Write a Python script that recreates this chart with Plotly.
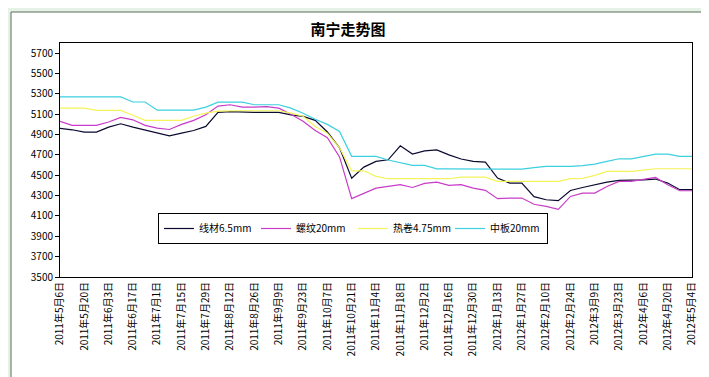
import plotly.graph_objects as go
import pandas as pd

# ---- data (weekly readings, starting 2011-05-06) ----
start_date = "2011-05-06"
n_weeks = 53
dates = pd.date_range(start_date, periods=n_weeks, freq="7D")

wire_65 = [4960, 4947, 4924, 4924, 4973, 5006, 4973, 4947, 4914, 4888,
           4914, 4940, 4980, 5118, 5125, 5118, 5118, 5118, 5118, 5094,
           5078, 5040, 4925, 4770, 4472, 4580, 4636, 4652, 4790, 4708,
           4740, 4750, 4700, 4660, 4636, 4630, 4472, 4423, 4423, 4290,
           4259, 4250, 4350, 4380, 4407, 4433, 4450, 4450, 4455, 4463,
           4423, 4358, 4358]
rebar_20 = [5030, 4990, 4990, 4990, 5023, 5069, 5045, 4990, 4964, 4950,
            5000, 5040, 5094, 5180, 5193, 5170, 5170, 5175, 5160, 5100,
            5030, 4940, 4870, 4680, 4270, 4320, 4374, 4390, 4407, 4380,
            4420, 4433, 4400, 4407, 4374, 4352, 4270, 4276, 4276, 4215,
            4194, 4165, 4292, 4325, 4325, 4390, 4440, 4440, 4456, 4479,
            4407, 4348, 4348]
hot_coil_475 = [5160, 5160, 5160, 5137, 5137, 5137, 5090, 5039, 5039, 5039,
                5039, 5080, 5110, 5130, 5134, 5134, 5134, 5134, 5134, 5110,
                5080, 4980, 4914, 4770, 4544, 4544, 4489, 4466, 4466, 4466,
                4466, 4466, 4466, 4482, 4482, 4482, 4440, 4440, 4440, 4440,
                4440, 4440, 4466, 4470, 4499, 4538, 4538, 4538, 4550, 4564,
                4564, 4564, 4564]
plate_20 = [5270, 5270, 5270, 5270, 5270, 5270, 5220, 5220, 5140, 5140,
            5140, 5140, 5170, 5219, 5219, 5219, 5193, 5193, 5193, 5160,
            5110, 5050, 5000, 4931, 4686, 4686, 4686, 4650, 4620, 4597,
            4597, 4562, 4562, 4560, 4560, 4560, 4560, 4560, 4560, 4575,
            4587, 4587, 4587, 4595, 4610, 4636, 4662, 4662, 4685, 4708,
            4708, 4686, 4686]

series_names = ["线材6.5mm", "螺纹20mm", "热卷4.75mm", "中板20mm"]
series_values = [wire_65, rebar_20, hot_coil_475, plate_20]
series_colors = ["#0a0a30", "#c83cc8", "#f4f45a", "#3cd0e0"]

y_ticks = list(range(3500, 5701, 200))
tick_dates = dates[::2]
tick_labels = [f"{d.year}年{d.month}月{d.day}日" for d in tick_dates]

FONT = "Noto Sans CJK SC"

fig = go.Figure()
for name, vals, col in zip(series_names, series_values, series_colors):
    fig.add_trace(go.Scatter(x=dates, y=vals, name=name, mode="lines",
                             line=dict(color=col, width=1.2)))

W, H = 709, 377
L, R, T, B = 52, 25, 35, 108
pw, ph = W - L - R, H - T - B

def px2paper_x(px):
    return (px - L) / pw

def px2paper_y(py):
    return (H - B - py) / ph

fig.update_layout(
    width=W, height=H,
    margin=dict(l=L, r=R, t=T, b=B),
    paper_bgcolor="#e6f2e6",
    plot_bgcolor="white",
    font=dict(family=FONT, size=10, color="black"),
    title=dict(text="<b>南宁走势图</b>", x=340 / W, xanchor="center",
               y=1 - 22 / H, yanchor="middle",
               font=dict(family=FONT, size=15, color="black")),
    showlegend=True,
    legend=dict(orientation="h", x=px2paper_x(345), xanchor="center",
                y=px2paper_y(205), yanchor="top",
                bordercolor="black", borderwidth=1, bgcolor="white",
                font=dict(family=FONT, size=10, color="black"),
                entrywidth=52, entrywidthmode="pixels",
                itemwidth=30, tracegroupgap=0),
    shapes=[dict(type="rect", xref="paper", yref="paper",
                 x0=px2paper_x(3), x1=px2paper_x(705),
                 y0=px2paper_y(372), y1=px2paper_y(4),
                 fillcolor="white", line=dict(color="#5a6e5a", width=1),
                 layer="below")],
)

fig.update_xaxes(
    range=[dates[0], dates[-1]],
    tickmode="array", tickvals=tick_dates, ticktext=tick_labels,
    tickangle=-90, tickfont=dict(family=FONT, size=10, color="black"),
    showgrid=False, zeroline=False,
    showline=True, linecolor="black", linewidth=1, mirror=True,
    ticks="", ticklen=0,
)
fig.update_yaxes(
    range=[3500, 5800], tickmode="array", tickvals=y_ticks,
    tickfont=dict(family=FONT, size=10, color="black"),
    showgrid=False, zeroline=False,
    showline=True, linecolor="black", linewidth=1, mirror=True,
    ticks="outside", ticklen=4, tickcolor="black",
)

fig.write_html("out.html")
